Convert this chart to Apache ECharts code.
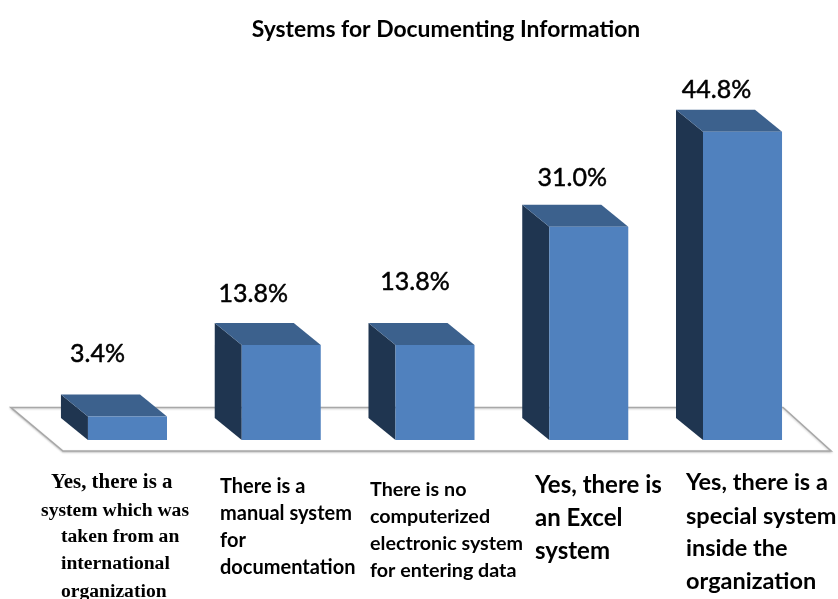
<!DOCTYPE html>
<html><head><meta charset="utf-8">
<style>html,body{margin:0;padding:0;background:#fff}#c{width:838px;height:599px}</style>
<script src="https://cdn.jsdelivr.net/npm/echarts@6/dist/echarts.min.js"></script>
</head><body><div id="c"></div>
<script>
const categories = [
  'Yes, there is a system which was taken from an international organization',
  'There is a manual system for documentation',
  'There is no computerized electronic system for entering data',
  'Yes, there is an Excel system',
  'Yes, there is a special system inside the organization'
];
const values = [3.4, 13.8, 13.8, 31.0, 44.8];
const titleText = 'Systems for Documenting Information';
const categoryLines = [
  ['Yes, there is a','system which was','taken from an','international','organization'],
  ['There is a','manual system','for','documentation'],
  ['There is no','computerized','electronic system','for entering data'],
  ['Yes, there is','an Excel','system'],
  ['Yes, there is a','special system','inside the','organization']
];
// label placement relative to the bar (style only)
const valueLabelShift = [[-30,-41],[-28,-29],[-20,-41],[-16.5,-27],[-26,-20]];
const catStyles = [
  {font:'bold 19.6px "Liberation Serif"', firstFont:'bold 20.9px "Liberation Serif"', xs:[51,41,61,61,61], ys:[483,511,537,564,592]},
  {font:'bold 20px Lato', xs:[220,220,220,220], ys:[487,514,541,568]},
  {font:'bold 19.7px Lato', xs:[370,370,370,370], ys:[490,517,544,571]},
  {font:'bold 24px Lato', xs:[535,535,535], ys:[485,518,551]},
  {font:'bold 23.5px Lato', xs:[686,686,686,686], ys:[482,516,548,581]}
];
const DX = 27, DY = 22;
const chart = echarts.init(document.getElementById('c'), null, {renderer:'canvas'});
chart.setOption({
  animation:false,
  title:{text:titleText,left:441,top:25,textAlign:'center',textVerticalAlign:'middle',
    textStyle:{fontFamily:'Lato',fontWeight:'bold',fontSize:22.9,color:'#000'}},
  grid:{left:50.6,right:18.6,top:96,bottom:159},
  xAxis:{type:'category',data:categories,axisLine:{show:false},axisTick:{show:false},axisLabel:{show:false}},
  yAxis:{type:'value',min:0,max:50,show:false,splitLine:{show:false}},
  series:[
    {type:'custom',name:'floor',silent:true,clip:false,z:1,data:[[0,0]],
     renderItem(p,api){
       const o=api.coord([0,0]);
       const y0=o[1]-32.5, y1=o[1]+11;
       const xb0=o[0]-116.5, xb1=api.coord([4,0])[0]+40.5, xf0=o[0]-64.5, xf1=api.coord([4,0])[0]+88.5;
       return {type:'polygon',shape:{points:[[xb0,y0],[xb1,y0],[xf1,y1],[xf0,y1]]},
         style:{fill:'#fff',stroke:'#a8a8a8',lineWidth:1.6,shadowColor:'rgba(0,0,0,0.2)',shadowBlur:2,shadowOffsetY:1}};
     }},
    {type:'custom',name:'Systems',clip:false,z:2,data:values.map((v,i)=>[i,v]),
     renderItem(p,api){
       const i=api.value(0),v=api.value(1);
       const top=api.coord([i,v]),base=api.coord([i,0]);
       const w=api.size([1,0])[0]*0.514;
       const x0=top[0]-w/2,x1=top[0]+w/2,yt=top[1],yb=base[1];
       const s=valueLabelShift[i];
       return {type:'group',children:[
         {type:'polygon',shape:{points:[[x0,yt],[x0-DX,yt-DY],[x0-DX,yb-DY],[x0,yb]]},style:{fill:'#1f3550'}},
         {type:'polygon',shape:{points:[[x0,yt],[x0-DX,yt-DY],[x1-DX,yt-DY],[x1,yt]]},style:{fill:'#3c618d'}},
         {type:'rect',shape:{x:x0,y:yt,width:w,height:yb-yt},style:{fill:'#5081be'}},
         {type:'text',style:{text:v.toFixed(1)+'%',x:top[0]+s[0],y:yt-DY+s[1],align:'center',verticalAlign:'middle',
           font:'25px Lato',fill:'#000',stroke:'#000',lineWidth:0.5}}
       ]};
     }},
    {type:'custom',name:'categoryLabels',silent:true,clip:false,z:3,data:categories.map((c,i)=>[i,0]),
     renderItem(p,api){
       const i=api.value(0),st=catStyles[i];
       return {type:'group',children:categoryLines[i].map((t,k)=>({type:'text',
         style:{text:t,x:st.xs[k],y:st.ys[k],align:'left',verticalAlign:'middle',font:(k===0&&st.firstFont)||st.font,fill:'#000'}}))};
     }}
  ]
});
</script></body></html>
